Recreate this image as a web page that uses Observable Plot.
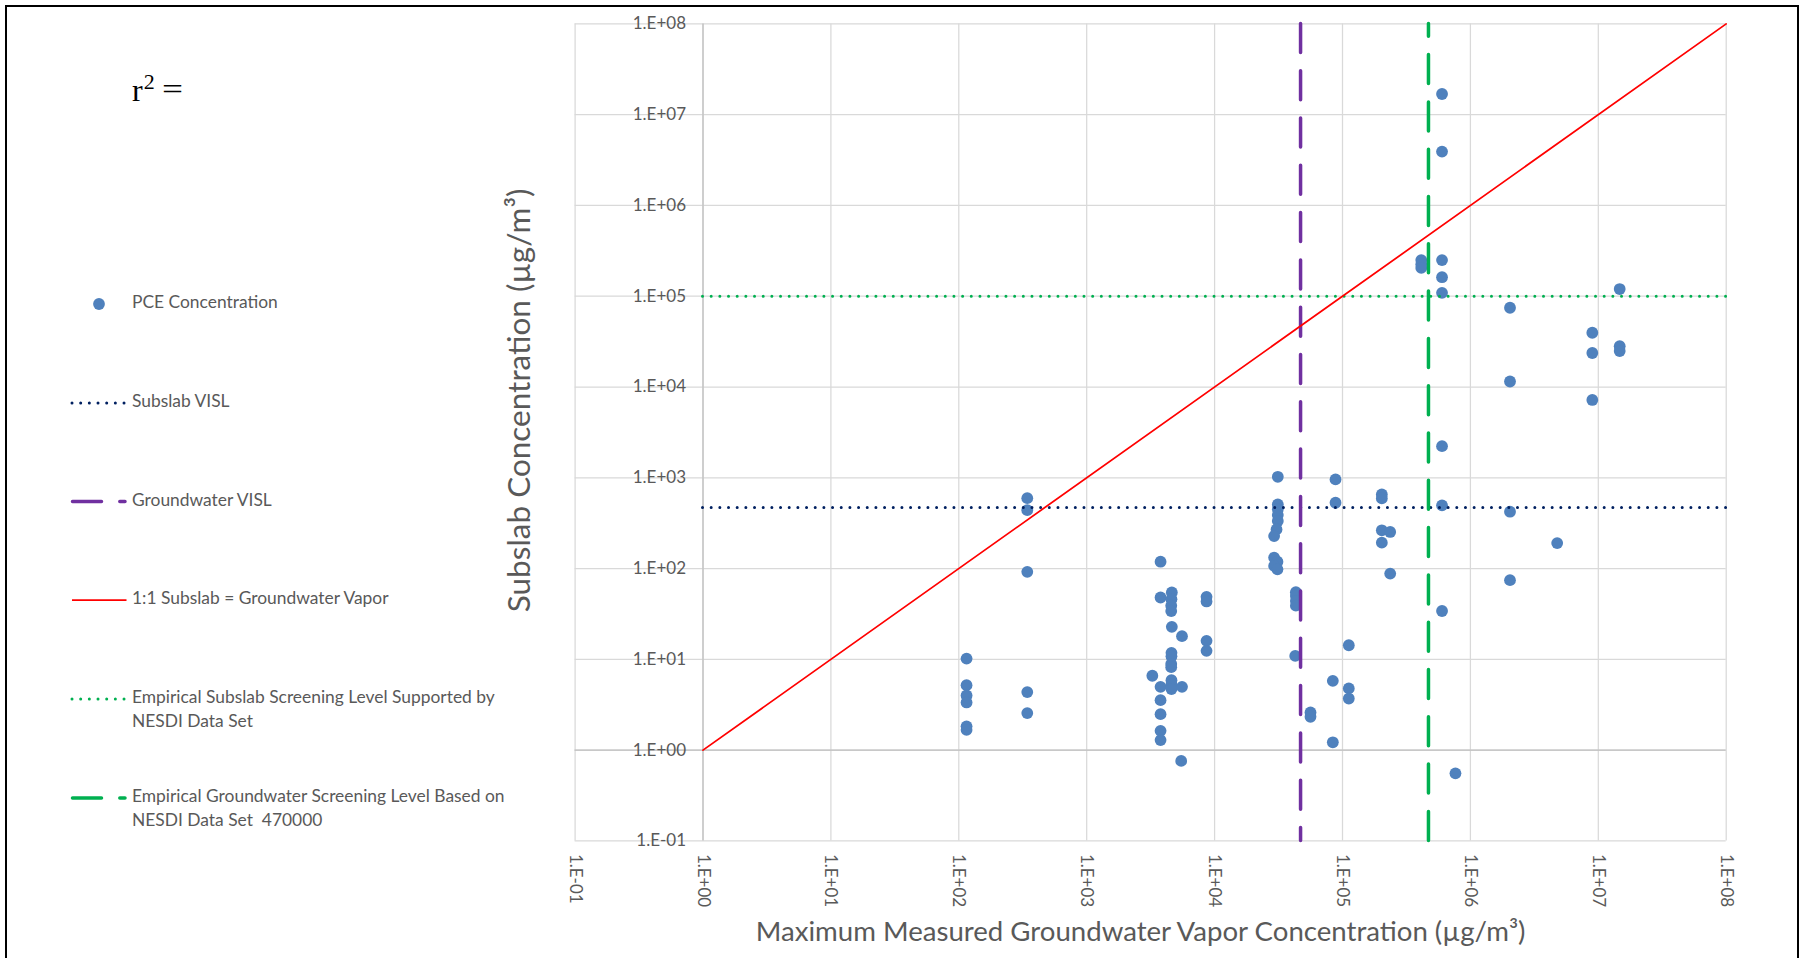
<!DOCTYPE html>
<html>
<head>
<meta charset="utf-8">
<script src="https://cdn.jsdelivr.net/npm/d3@7"></script>
<script src="https://cdn.jsdelivr.net/npm/@observablehq/plot@0.6"></script>
<style>
  html, body { margin: 0; padding: 0; background: #fff; overflow: hidden; }
  #page { position: relative; width: 1800px; height: 958px; overflow: hidden; background: #fff; }
  #chart { position: absolute; left: 0; top: 0; }
  #legend { position: absolute; left: 0; top: 0; }
  #frame { position: absolute; left: 5px; top: 5px; width: 1794px; height: 1000px;
           border: 2px solid #000; border-bottom: none; box-sizing: border-box; pointer-events: none; }
</style>
</head>
<body>
<div id="page">
  <div id="chart"></div>
  <svg id="legend" width="560" height="958"></svg>
  <div id="frame"></div>
</div>
<script>
// Maximum measured groundwater vapor concentration (µg/m³), one entry per sample
const gwVapor = [
  115, 115, 115, 115, 115, 115,
  343, 343, 343, 343, 343,
  3260,
  3780, 3780, 3780, 3780, 3780, 3780, 3780,
  4630, 4600, 4580, 4580, 4630, 4600, 4600, 4580, 4580, 4600, 4600, 4600,
  5560, 5560, 5480,
  8650, 8650, 8650, 8650,
  31200, 31200, 31200, 31200, 31200, 30500, 29200, 29200, 31000, 29200, 31000,
  43200, 43200, 43200, 43200, 42700,
  56200, 56200,
  84000, 84000,
  88200, 88200,
  112000, 112000, 112000,
  203000, 203000, 203000, 236000, 203000, 236000,
  413000, 413000, 413000,
  600000, 600000, 600000, 600000, 600000, 600000, 600000, 600000,
  764000,
  2040000, 2040000, 2040000, 2040000,
  4770000,
  8980000, 8980000, 8980000,
  14700000, 14700000, 14700000
];

// Paired subslab PCE concentration (µg/m³)
const subslab = [
  10.2, 5.2, 4.0, 3.35, 1.83, 1.67,
  597, 440, 92, 4.36, 2.56,
  6.6,
  119, 48, 4.98, 3.55, 2.49, 1.63, 1.29,
  54.5, 46, 39, 34, 22.8, 11.8, 10.8, 8.9, 8.2, 5.9, 5.3, 4.7,
  18.0, 4.98, 0.76,
  48.8, 43.4, 16.0, 12.4,
  1026, 509, 449, 388, 334, 270, 228, 132, 119, 107, 98,
  55, 50, 44, 39, 10.9,
  2.6, 2.33,
  5.8, 1.22,
  959, 531,
  14.3, 4.78, 3.7,
  656, 593, 264, 253, 193, 88,
  250000, 225000, 205000,
  16900000, 3920000, 250000, 162000, 109000, 2230, 497, 34.1,
  0.555,
  74700, 11500, 423, 74.5,
  191,
  39600, 23700, 7200,
  120000, 28200, 24900
];

// Screening levels (µg/m³)
const subslabVisl = [470];
const groundwaterVisl = [47000];
const empiricalSubslab = [100000];
const empiricalGroundwater = [470000];

// Ends of the 1:1 reference line
const oneToOne = [1, 1e8];

// Decade ticks shared by both log axes
const decades = [1e-1, 1e0, 1e1, 1e2, 1e3, 1e4, 1e5, 1e6, 1e7, 1e8];

const xTitle = ["Maximum Measured Groundwater Vapor Concentration (µg/m³)"];
const yTitle = ["Subslab Concentration (µg/m³)"];

const legendLabels = [
  ["PCE Concentration"],
  ["Subslab VISL"],
  ["Groundwater VISL"],
  ["1:1 Subslab = Groundwater Vapor"],
  ["Empirical Subslab Screening Level Supported by", "NESDI Data Set"],
  ["Empirical Groundwater Screening Level Based on", "NESDI Data Set  470000"]
];

// Excel-style scientific labels: 1.E+05, 1.E-01
const sci = v => {
  const e = Math.round(Math.log10(v));
  return "1.E" + (e < 0 ? "-" : "+") + String(Math.abs(e)).padStart(2, "0");
};

const points = gwVapor.map((x, i) => ({x, y: subslab[i]}));

const GRID = "#d9d9d9";
const TEXT = "#595959";
const BLUE = "#4F81BD";
const NAVY = "#002060";
const PURPLE = "#7030A0";
const GREEN = "#00B050";
const FONT = "Lato, 'Open Sans', sans-serif";
const SERIF = "'Liberation Serif', 'DejaVu Serif', serif";

const dotted = {strokeWidth: 3, strokeDasharray: "0.01 8.66", strokeLinecap: "round"};
const dashed = {strokeWidth: 3.5, strokeDasharray: "29 18.3", strokeLinecap: "round"};

const chart = Plot.plot({
  width: 1800,
  height: 958,
  marginLeft: 574.6,
  marginRight: 74.3,
  marginTop: 23.4,
  marginBottom: 117.6,
  x: {type: "log", domain: [0.1, 1e8], axis: null},
  y: {type: "log", domain: [0.1, 1e8], axis: null},
  style: {fontFamily: FONT, color: TEXT, background: "transparent", overflow: "visible"},
  marks: [
    // gridlines
    Plot.ruleX(decades, {stroke: GRID, strokeWidth: 1.25}),
    Plot.ruleY(decades, {stroke: GRID, strokeWidth: 1.25}),
    // axis lines cross at 1
    Plot.ruleX([1], {stroke: "#bfbfbf", strokeWidth: 1.25}),
    Plot.ruleY([1], {stroke: "#bfbfbf", strokeWidth: 1.25}),
    // y tick labels sit beside the vertical axis at x = 1
    Plot.text(decades, {x: () => 1, y: d => d, text: sci, textAnchor: "end", dx: -17,
                        fontSize: 17, fill: TEXT}),
    // x tick labels below the frame, rotated
    Plot.text(decades, {x: d => d, frameAnchor: "bottom", text: sci, rotate: 90,
                        textAnchor: "start", lineAnchor: "middle", dy: 13, fontSize: 17, fill: TEXT}),
    // samples
    Plot.dot(points, {x: "x", y: "y", r: 5.9, fill: BLUE, stroke: "none"}),
    // screening levels
    Plot.ruleY(subslabVisl, {x1: () => 1, x2: () => 1e8, y: d => d, stroke: NAVY, ...dotted}),
    Plot.ruleY(empiricalSubslab, {x1: () => 1, x2: () => 1e8, y: d => d, stroke: GREEN, ...dotted}),
    Plot.ruleX(groundwaterVisl, {x: d => d, y1: () => 1e8, y2: () => 0.1, stroke: PURPLE, ...dashed}),
    Plot.ruleX(empiricalGroundwater, {x: d => d, y1: () => 0.1, y2: () => 1e8, stroke: GREEN, ...dashed}),
    // 1:1 line
    Plot.line(oneToOne, {x: d => d, y: d => d, stroke: "#FF0000", strokeWidth: 1.75}),
    // axis titles
    Plot.text(yTitle, {frameAnchor: "left", text: d => d, rotate: -90, textAnchor: "middle",
                       lineAnchor: "middle", dx: -55.6, dy: -32, fontSize: 31.5, fill: TEXT}),
    Plot.text(xTitle, {frameAnchor: "bottom", text: d => d, textAnchor: "middle",
                       lineAnchor: "middle", dx: -10, dy: 91.6, fontSize: 27.6, fill: TEXT})
  ]
});
document.getElementById("chart").appendChild(chart);

// Legend panel on the left
const legend = d3.select("#legend");
legend.append("text")
  .attr("x", 132).attr("y", 101)
  .attr("font-family", SERIF)
  .attr("font-size", 32).attr("fill", "#000")
  .call(t => {
    t.append("tspan").text("r");
    t.append("tspan").attr("dy", -12).attr("dx", 1).attr("font-size", 22).text("2");
  });
legend.append("text")
  .attr("x", 162).attr("y", 99)
  .attr("font-family", SERIF)
  .attr("font-size", 30).attr("fill", "#000")
  .attr("textLength", 21).attr("lengthAdjust", "spacingAndGlyphs")
  .text("=");

const rowY = [304, 403, 501.5, 600, 699, 798];
const symbols = [
  g => g.append("circle").attr("cx", 99).attr("cy", 0).attr("r", 5.9).attr("fill", BLUE),
  g => g.append("line").attr("x1", 72).attr("x2", 127).attr("stroke", NAVY)
        .attr("stroke-width", dotted.strokeWidth).attr("stroke-dasharray", dotted.strokeDasharray)
        .attr("stroke-linecap", "round"),
  g => g.append("line").attr("x1", 72.5).attr("x2", 125).attr("stroke", PURPLE)
        .attr("stroke-width", dashed.strokeWidth).attr("stroke-dasharray", dashed.strokeDasharray)
        .attr("stroke-linecap", "round"),
  g => g.append("line").attr("x1", 72).attr("x2", 126.5).attr("stroke", "#FF0000")
        .attr("stroke-width", 1.75),
  g => g.append("line").attr("x1", 72).attr("x2", 127).attr("stroke", GREEN)
        .attr("stroke-width", dotted.strokeWidth).attr("stroke-dasharray", dotted.strokeDasharray)
        .attr("stroke-linecap", "round"),
  g => g.append("line").attr("x1", 72.5).attr("x2", 125).attr("stroke", GREEN)
        .attr("stroke-width", dashed.strokeWidth).attr("stroke-dasharray", dashed.strokeDasharray)
        .attr("stroke-linecap", "round")
];

legendLabels.forEach((lines, i) => {
  const g = legend.append("g").attr("transform", `translate(0,${rowY[i]})`);
  symbols[i](g);
  lines.forEach((s, j) => {
    g.append("text")
      .attr("x", 132).attr("y", j * 23.5)
      .attr("dominant-baseline", "middle")
      .attr("font-family", FONT)
      .attr("font-size", 17.4).attr("fill", TEXT)
      .style("white-space", "pre")
      .text(s);
  });
});
</script>
</body>
</html>
